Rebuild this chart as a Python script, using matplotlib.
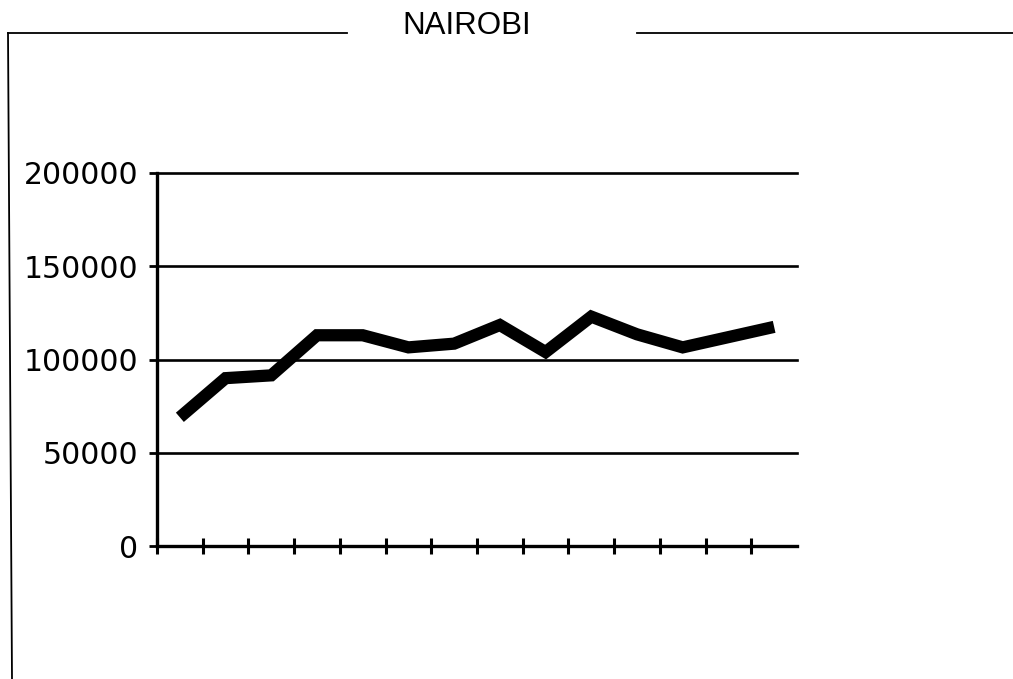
import matplotlib
matplotlib.use("Agg")
import matplotlib.pyplot as plt
from matplotlib.lines import Line2D

# Data
periods = list(range(14))
values = [69000, 90000, 91500, 113000, 113000, 106500, 108500,
          118500, 104000, 123000, 113500, 106500, 112000, 117500]
y_ticks = [0, 50000, 100000, 150000, 200000]
y_tick_labels = ["0", "50000", "100000", "150000", "200000"]
title = "NAIROBI"

W, H = 1013, 679
fig = plt.figure(figsize=(W / 100, H / 100), dpi=100)
fig.patch.set_facecolor("white")

ax = fig.add_axes([157 / W, 1 - 546 / H, (797 - 157) / W, (546 - 173) / H])
x = [p + 0.5 for p in periods]
ax.plot(x, values, color="black", lw=8.8, solid_capstyle="butt",
        solid_joinstyle="miter", zorder=5, clip_on=False)

for v in y_ticks[1:]:
    ax.axhline(v, color="black", lw=1.9, clip_on=False, zorder=2)

ax.set_xlim(0, len(periods))
ax.set_ylim(0, 200000)
ax.set_yticks(y_ticks)
ax.set_yticklabels(y_tick_labels, fontfamily="DejaVu Sans", fontsize=21.5)
ax.set_xticks(list(range(len(periods))))
ax.set_xticklabels([])

for s in ("top", "right"):
    ax.spines[s].set_visible(False)
for s in ("left", "bottom"):
    ax.spines[s].set_linewidth(2.4)
    ax.spines[s].set_color("black")

ax.tick_params(axis="y", direction="out", length=5.5, width=2.0, pad=8,
               colors="black")
ax.tick_params(axis="x", direction="inout", length=12, width=2.2)

# Frame lines around the page with gap for title
fig.add_artist(Line2D([8 / W, 12 / W], [1 - 33 / H, 0], color="black", lw=1.3))
fig.add_artist(Line2D([8 / W, 347 / W], [1 - 33 / H, 1 - 33 / H], color="black", lw=1.3))
fig.add_artist(Line2D([637 / W, 1013 / W], [1 - 33 / H, 1 - 33 / H], color="black", lw=1.3))

fig.text(467 / W, 1 - 26 / H, title, ha="center", va="center",
         fontsize=22.5, fontfamily="Liberation Sans", color="black")

fig.savefig("out.png", dpi=100, facecolor="white")
